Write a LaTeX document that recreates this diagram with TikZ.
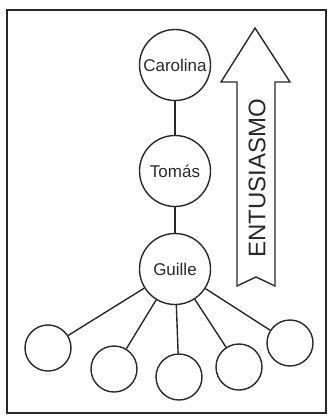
\documentclass[tikz,border=0pt]{standalone}
\usepackage{fontspec}
\usepackage{tikz}
\newfontfamily\handfont{Liberation Sans}
\definecolor{inkgray}{RGB}{40,40,40}

\begin{document}
\begin{tikzpicture}[x=1pt, y=-1pt, line width=1.4pt, draw=inkgray,
  every node/.style={font=\handfont\fontsize{17}{19}\selectfont, text=inkgray}]
\useasboundingbox (0,0) rectangle (328,417);
\draw[line width=2pt] (7,10) rectangle (326,413);
% chain of names
\node[draw,circle,inner sep=0pt,minimum size=71pt] (carolina) at (175,65) {Carolina};
\node[draw,circle,inner sep=0pt,minimum size=71pt] (tomas) at (175,171) {Tomás};
\node[draw,circle,inner sep=0pt,minimum size=71pt] (guille) at (175,269) {Guille};
% the ones below
\node[draw,circle,inner sep=0pt,minimum size=46pt] (leaf1) at (48,348) {};
\node[draw,circle,inner sep=0pt,minimum size=46pt] (leaf2) at (114,369) {};
\node[draw,circle,inner sep=0pt,minimum size=46pt] (leaf3) at (179,377) {};
\node[draw,circle,inner sep=0pt,minimum size=46pt] (leaf4) at (239,367) {};
\node[draw,circle,inner sep=0pt,minimum size=46pt] (leaf5) at (290,343) {};
\draw (carolina) -- (tomas);
\draw (tomas) -- (guille);
\foreach \i in {1,...,5}
  \draw (guille) -- (leaf\i);
% big arrow
\draw (255,28) -- (290,82) -- (275,82) -- (275,286) -- (256,277) -- (237,286)
  -- (237,82) -- (221,82) -- cycle;
\node[rotate=90, font=\handfont\fontsize{24}{26}\selectfont] (entusiasmo) at (257,178) {ENTUSIASMO};
\end{tikzpicture}
\end{document}
